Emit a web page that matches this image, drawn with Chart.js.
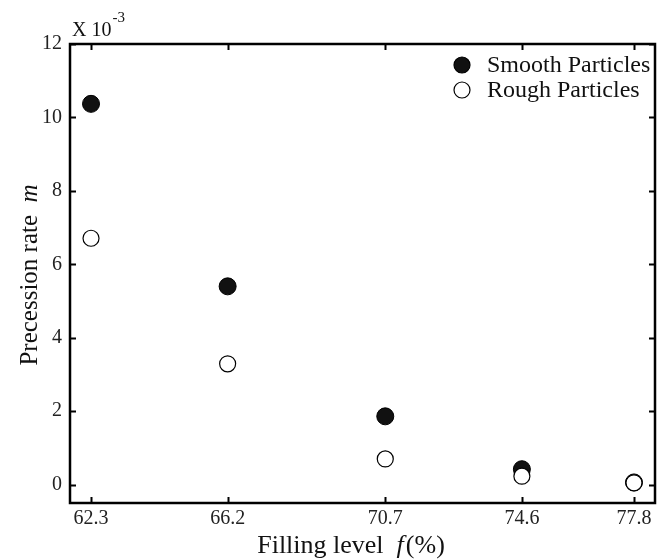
<!DOCTYPE html>
<html>
<head>
<meta charset="utf-8">
<script src="https://cdn.jsdelivr.net/npm/chart.js@4"></script>
<style>
    html, body { margin: 0; padding: 0; background: #fff; }
    #wrap { width: 665px; height: 560px; }
</style>
</head>
<body>
<div id="wrap"><canvas id="precessionChart" width="665" height="560"></canvas></div>
<script>
// filling level categories (%)
const fillingLevels = [62.3, 66.2, 70.7, 74.6, 77.8];
// precession rate, in units of 1e-3
const smoothRates = [10.37, 5.40, 1.86, 0.42, 0.06];
const roughRates = [6.71, 3.29, 0.70, 0.23, 0.05];
const yTickValues = [0, 2, 4, 6, 8, 10, 12];

const serif = '"Liberation Serif", "Times New Roman", serif';

function toPoints(xs, ys) {
    return xs.map(function (x, i) { return { x: x, y: ys[i] }; });
}

// box, inward ticks on all sides, axis titles, exponent and legend
const decorPlugin = {
    id: 'decor',
    afterDraw: function (chart) {
        const ctx = chart.ctx;
        const area = chart.chartArea;
        const xs = chart.scales.x;
        const ys = chart.scales.y;
        const tick = 6;

        ctx.save();
        ctx.strokeStyle = '#000';
        ctx.lineWidth = 2;
        xs.ticks.forEach(function (t) {
            const px = Math.round(xs.getPixelForValue(t.value)) + 0.5;
            ctx.beginPath();
            ctx.moveTo(px, area.bottom); ctx.lineTo(px, area.bottom - tick);
            ctx.moveTo(px, area.top); ctx.lineTo(px, area.top + tick);
            ctx.stroke();
        });
        ys.ticks.forEach(function (t) {
            const py = Math.round(ys.getPixelForValue(t.value)) + 0.5;
            ctx.beginPath();
            ctx.moveTo(area.left, py); ctx.lineTo(area.left + tick, py);
            ctx.moveTo(area.right, py); ctx.lineTo(area.right - tick, py);
            ctx.stroke();
        });
        ctx.lineWidth = 2.5;
        ctx.strokeRect(area.left, area.top, area.right - area.left, area.bottom - area.top);

        // exponent label
        ctx.fillStyle = '#111';
        ctx.textBaseline = 'alphabetic';
        ctx.textAlign = 'left';
        ctx.font = '20px ' + serif;
        ctx.fillText('X 10', area.left + 2, area.top - 8);
        const w = ctx.measureText('X 10').width;
        ctx.font = '15px ' + serif;
        ctx.fillText('-3', area.left + 3 + w, area.top - 22);

        // x axis title
        const fs = 26;
        ctx.font = fs + 'px ' + serif;
        const p1 = 'Filling level  ';
        const w1 = ctx.measureText(p1).width;
        const w3 = ctx.measureText('(%)').width;
        ctx.font = 'italic ' + fs + 'px ' + serif;
        const wf = ctx.measureText('f').width + 2;
        let sx = 351 - (w1 + wf + w3) / 2;
        const by = 553;
        ctx.font = fs + 'px ' + serif;
        ctx.fillText(p1, sx, by);
        ctx.font = 'italic ' + fs + 'px ' + serif;
        ctx.fillText('f', sx + w1, by);
        ctx.font = fs + 'px ' + serif;
        ctx.fillText('(%)', sx + w1 + wf, by);

        // y axis title
        ctx.save();
        ctx.translate(37, 275);
        ctx.rotate(-Math.PI / 2);
        ctx.font = '25px ' + serif;
        const q1 = 'Precession rate  ';
        const q1w = ctx.measureText(q1).width;
        ctx.font = 'italic 25px ' + serif;
        const mw = ctx.measureText('m').width;
        ctx.font = '25px ' + serif;
        const qx = -(q1w + mw) / 2;
        ctx.fillText(q1, qx, 0);
        ctx.font = 'italic 25px ' + serif;
        ctx.fillText('m', qx + q1w, 0);
        ctx.restore();

        // legend
        ctx.font = '24px ' + serif;
        ctx.textBaseline = 'middle';
        chart.data.datasets.forEach(function (ds, i) {
            const ly = 65 + i * 25;
            ctx.beginPath();
            ctx.arc(462, ly, 8, 0, Math.PI * 2);
            ctx.fillStyle = ds.pointBackgroundColor;
            ctx.fill();
            ctx.lineWidth = 1.2;
            ctx.strokeStyle = '#000';
            ctx.stroke();
            ctx.fillStyle = '#111';
            ctx.fillText(ds.label, 487, ly + 1);
        });
        ctx.restore();
    }
};

new Chart(document.getElementById('precessionChart'), {
    type: 'scatter',
    data: {
        datasets: [
            {
                label: 'Smooth Particles',
                data: toPoints(fillingLevels, smoothRates),
                pointRadius: 8.5,
                pointBackgroundColor: '#111',
                pointBorderColor: '#000',
                pointBorderWidth: 1,
                order: 1
            },
            {
                label: 'Rough Particles',
                data: toPoints(fillingLevels, roughRates),
                pointRadius: 8,
                pointBackgroundColor: '#fff',
                pointBorderColor: '#000',
                pointBorderWidth: 1.2,
                order: 0
            }
        ]
    },
    plugins: [decorPlugin],
    options: {
        responsive: false,
        animation: false,
        layout: { padding: { top: 44, right: 10, left: 0, bottom: 0 } },
        plugins: {
            legend: { display: false },
            tooltip: { enabled: false }
        },
        scales: {
            x: {
                type: 'linear',
                min: 61.7,
                max: 78.4,
                afterBuildTicks: function (scale) {
                    scale.ticks = fillingLevels.map(function (v) { return { value: v }; });
                },
                afterFit: function (scale) { scale.height = 57; },
                grid: { display: false, drawTicks: false },
                border: { display: false },
                ticks: {
                    color: '#222',
                    padding: 4,
                    maxRotation: 0,
                    font: { family: serif, size: 20 },
                    callback: function (v) { return v.toFixed(1); }
                }
            },
            y: {
                min: -0.5,
                max: 12,
                afterBuildTicks: function (scale) {
                    scale.ticks = yTickValues.map(function (v) { return { value: v }; });
                },
                afterFit: function (scale) { scale.width = 70; },
                grid: { display: false, drawTicks: false },
                border: { display: false },
                ticks: {
                    color: '#222',
                    padding: 8,
                    font: { family: serif, size: 20 }
                }
            }
        }
    }
});
</script>
</body>
</html>
